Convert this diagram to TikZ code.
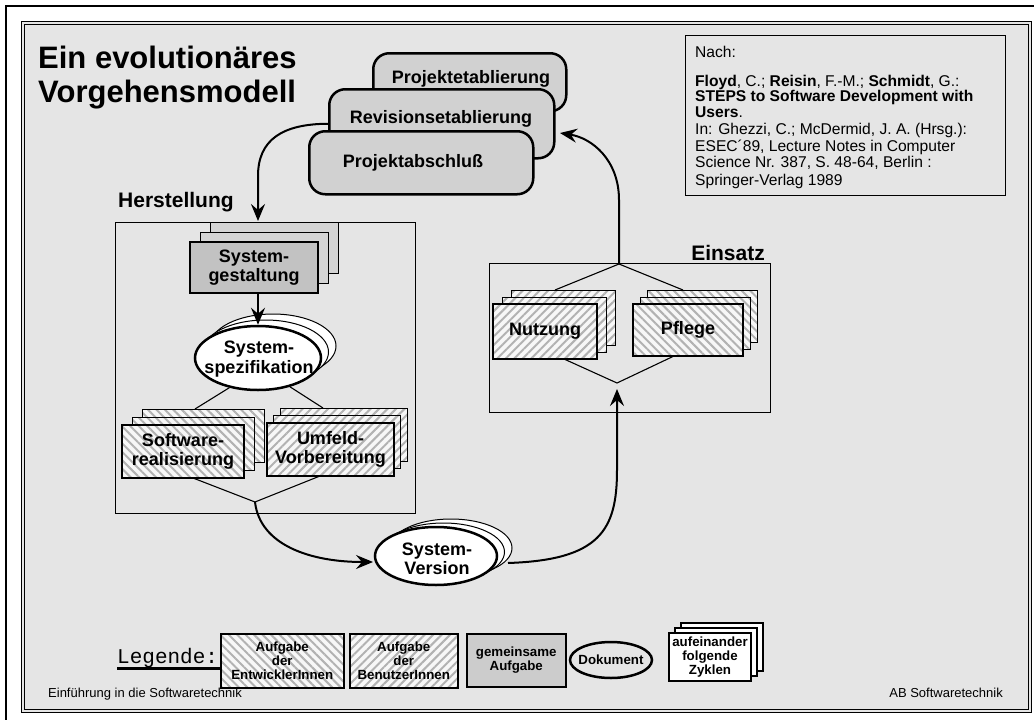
\documentclass[tikz,border=0pt]{standalone}
\usepackage{fontspec}
\setmainfont{Liberation Sans}
\newfontfamily\legmono{Liberation Mono}
\usetikzlibrary{arrows.meta,patterns.meta,shapes.geometric}
\definecolor{bg}{gray}{0.9}
\definecolor{prj}{gray}{0.82}
\definecolor{sgf}{gray}{0.76}
\definecolor{sgb}{gray}{0.83}
\definecolor{gem}{gray}{0.8}
\definecolor{hatchbg}{gray}{0.97}
\definecolor{hatchln}{gray}{0.7}
\tikzset{
 bigtext/.style={font=\fontsize{18}{19.5}\selectfont\bfseries, align=center},
 smalltext/.style={font=\fontsize{13.3}{13.6}\selectfont\bfseries, align=center},
 box/.style={rectangle, inner sep=0pt},
 devhatch/.style={preaction={fill=hatchbg}, pattern={Lines[angle=-45,distance=6pt,line width=2pt]}, pattern color=hatchln},
 usrhatch/.style={preaction={fill=hatchbg}, pattern={Lines[angle=45,distance=6pt,line width=2pt]}, pattern color=hatchln},
 devback/.style={box, draw, line width=1pt, devhatch},
 devfront/.style={box, draw, line width=2.5pt, devhatch, bigtext},
 usrback/.style={box, draw, line width=1pt, usrhatch},
 usrfront/.style={box, draw, line width=2.5pt, usrhatch, bigtext},
 grayback/.style={box, draw, line width=1pt, fill=sgb},
 grayfront/.style={box, draw, line width=2.5pt, fill=sgf, bigtext},
 plainback/.style={box, draw, line width=1.2pt, fill=white},
 plainfront/.style={box, draw, line width=1.5pt, fill=white, smalltext},
 ellback/.style={ellipse, draw, line width=1pt, fill=white, inner sep=0pt},
 ellfront/.style={ellipse, draw, line width=2.5pt, fill=white, inner sep=0pt},
 prjbox/.style={rectangle, draw, line width=2.5pt, fill=prj, rounded corners=16pt, inner sep=0pt, anchor=north west},
 prjtext/.style={font=\fontsize{18}{19.5}\selectfont\bfseries, inner sep=0pt, anchor=base},
 frame/.style={rectangle, draw, line width=1.2pt, inner sep=0pt, anchor=north west},
 labeltext/.style={font=\fontsize{21}{22}\selectfont\bfseries, inner sep=0pt},
 cit/.style={font=\fontsize{15.6}{16}\selectfont, inner sep=0pt, anchor=base west},
 foot/.style={font=\fontsize{13}{14}\selectfont, inner sep=0pt},
 legbox/.style={rectangle, draw, line width=1.5pt, inner sep=0pt, anchor=north west, smalltext},
 thinln/.style={line width=1.1pt},
 arr/.style={line width=2pt, -{Stealth[length=17pt,width=14pt,inset=6pt]}},
}
\newcommand\stackbox[9]{%
 \node[#8back, minimum width=#4pt, minimum height=#5pt] (#1b2) at ({#2+2*(#6)},{#3+2*(#7)}) {};
 \node[#8back, minimum width=#4pt, minimum height=#5pt] (#1b1) at ({#2+(#6)},{#3+(#7)}) {};
 \node[#8front, minimum width=#4pt, minimum height=#5pt] (#1) at (#2,#3) {#9};
}
\newcommand\stackell[7]{%
 \node[ellback, minimum width={2*#4pt}, minimum height={2*#5pt}] (#1b2) at ({#2+2*(#6)},{#3+2*(#7)}) {};
 \node[ellback, minimum width={2*#4pt}, minimum height={2*#5pt}] (#1b1) at ({#2+(#6)},{#3+(#7)}) {};
 \node[ellfront, minimum width={2*#4pt}, minimum height={2*#5pt}] (#1) at (#2,#3) {};
}
\begin{document}
\begin{tikzpicture}[x=1pt,y=-1pt]
\useasboundingbox (0,0) rectangle (1034,720);
\clip (0,0) rectangle (1034,720);
\fill[white] (0,0) rectangle (1034,720);
% frames
\draw[line width=2.5pt] (6,760) -- (6,6) -- (1080,6);
\draw[line width=0.9pt, fill=bg] (21.5,21.5) rectangle (1031.5,712.5);
\draw[line width=0.9pt] (24.5,24.5) rectangle (1028.5,709.5);

% title
\node[anchor=base west, inner sep=0pt, font=\fontsize{31}{34}\selectfont\bfseries] (t1) at (38,68) {Ein evolutionäres};
\node[anchor=base west, inner sep=0pt, font=\fontsize{31}{34}\selectfont\bfseries] (t2) at (38,102) {Vorgehensmodell};

% citation
\node[frame, minimum width=320pt, minimum height=160pt] (citbox) at (685,35) {};
\node[cit] (c1) at (695,57) {Nach:};
\node[cit] (c2) at (695,86) {\textbf{Floyd}, C.; \textbf{Reisin}, F.-M.; \textbf{Schmidt}, G.:};
\node[cit] (c3) at (695,101.5) {\textbf{STEPS to Software Development with}};
\node[cit] (c4) at (695,117) {\textbf{Users}.};
\node[cit] (c5) at (695,134.5) {In: Ghezzi, C.; McDermid, J. A. (Hrsg.):};
\node[cit] (c6) at (695,151) {ESEC´89, Lecture Notes in Computer};
\node[cit] (c7) at (695,167.5) {Science Nr. 387, S. 48-64, Berlin :};
\node[cit] (c8) at (695,185) {Springer-Verlag 1989};

% phase boxes
\node[frame, minimum width=300pt, minimum height=291pt] (herst) at (115,222) {};
\node[labeltext, anchor=base west] (herstl) at (118,207) {Herstellung};
\node[frame, minimum width=281pt, minimum height=149pt] (einsatz) at (489,263) {};
\node[labeltext, anchor=base east] (einsatzl) at (765,260) {Einsatz};

% project stack
\node[prjbox, minimum width=193pt, minimum height=58pt] (pe) at (372,52) {};
\node[prjtext] (pet) at (471,83) {Projektetablierung};
\node[prjbox, minimum width=225pt, minimum height=69pt] (re) at (328,88) {};
\node[prjtext] (ret) at (441,123) {Revisionsetablierung};
\node[prjbox, minimum width=224pt, minimum height=63pt] (pa) at (308,130) {};
\node[prjtext] (pat) at (413,167) {Projektabschluß};

% coordinates
\coordinate (hin) at (258,221);
\coordinate (reout) at (560,133);
\coordinate (j1) at (255,502);
\coordinate (j2) at (619,264);
\coordinate (j3) at (617,383);
\coordinate (swtop) at (195,409);
\coordinate (uvtop) at (323,408);
\coordinate (swbot) at (193,478);
\coordinate (uvbot) at (320,476);
\coordinate (nutop) at (555,290);
\coordinate (pftop) at (683,290);
\coordinate (nubot) at (564,359);
\coordinate (pfbot) at (674,356);
\coordinate (svin) at (373,562);
\coordinate (svout) at (508,563);
\coordinate (einin) at (617,389);

% Herstellung content
\stackbox{sg}{254}{267.5}{128}{51}{10}{-10}{gray}{System-\\gestaltung}
\stackell{spez}{258}{358}{63}{32}{7.5}{-6}
\node[bigtext, inner sep=0pt] (spezt) at (259,359) {System-\\spezifikation};
\draw[thinln] (spez.226) -- (swtop);
\draw[thinln] (spez.318) -- (uvtop);
\stackbox{sw}{183}{451.5}{122}{53}{10}{-8}{dev}{Software-\\realisierung}
\stackbox{uv}{330.5}{449.5}{127}{53}{6.5}{-7.5}{usr}{Umfeld-\\Vorbereitung}
\draw[thinln] (swbot) -- (j1) -- (uvbot);
\draw[arr] (sg.south -| spez.north) -- (spez.north);

% Einsatz content
\draw[thinln] (nutop) -- (j2) -- (pftop);
\draw[thinln] (nubot) -- (j3) -- (pfbot);
\stackbox{nu}{545}{331.5}{104}{55}{9}{-7}{usr}{Nutzung}
\stackbox{pf}{688}{330}{110}{52}{7}{-7}{dev}{Pflege}

% System-Version
\stackell{sv}{436}{556}{61}{29}{7.5}{-4}
\node[bigtext, inner sep=0pt] (svt) at (437,559) {System-\\Version};

% main arrows
\draw[arr] (re.west) .. controls (282,124) and (258,140) .. (258,176) -- (hin);
\draw[arr] (j1) .. controls (260,545) and (310,562) .. (svin);
\draw[arr] (svout) .. controls (600,560) and (617,530) .. (617,470) -- (einin);
\draw[arr] (j2) -- (619,200) .. controls (619,160) and (592,138) .. (reout);

% legend
\node[anchor=base west, inner sep=0pt, font=\legmono\fontsize{21}{22}\selectfont] (leg) at (117,663) {Legende:};
\draw[line width=3pt] (leg.base west) ++(0,5) -- ++(103,0);
\node[legbox, devhatch, minimum width=123pt, minimum height=54pt] (lg1) at (220,633) {Aufgabe\\der\\EntwicklerInnen};
\node[legbox, usrhatch, minimum width=108pt, minimum height=54pt] (lg2) at (349,633) {Aufgabe\\der\\BenutzerInnen};
\node[legbox, fill=gem, minimum width=99pt, minimum height=53pt] (lg3) at (466,633) {gemeinsame\\Aufgabe};
\node[ellipse, draw, line width=2.5pt, minimum width=82pt, minimum height=36pt, inner sep=0pt] (lg4) at (611,660) {};
\node[smalltext, inner sep=0pt] (lg4t) at (611,660) {Dokument};
\stackbox{zy}{710}{657}{82}{48}{6}{-5}{plain}{aufeinander\\folgende\\Zyklen}

% footer
\node[foot, anchor=base west] (f1) at (48,697) {Einführung in die Softwaretechnik};
\node[foot, anchor=base east] (f2) at (1003,697) {AB Softwaretechnik};
\end{tikzpicture}
\end{document}
